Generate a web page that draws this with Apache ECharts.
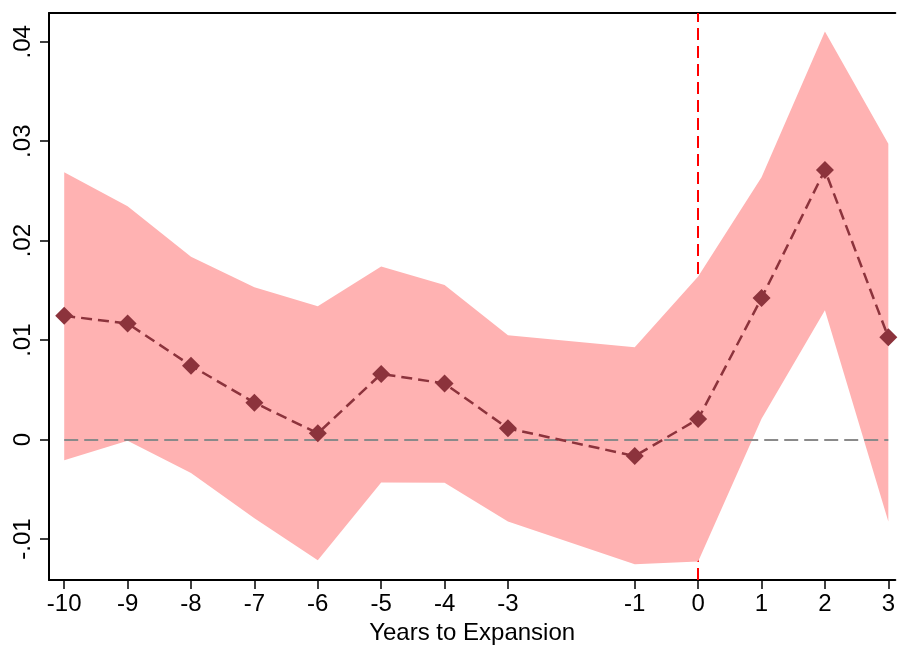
<!DOCTYPE html>
<html>
<head>
<meta charset="utf-8">
<script src="https://cdn.jsdelivr.net/npm/echarts@6/dist/echarts.min.js"></script>
<style>
html,body{margin:0;padding:0;background:#fff;}
#chart{width:898px;height:650px;}
</style>
</head>
<body>
<div id="chart"></div>
<script>
// Data
var years = [-10, -9, -8, -7, -6, -5, -4, -3, -1, 0, 1, 2, 3];
var estimate = [0.01244, 0.01167, 0.00743, 0.00371, 0.00063, 0.0066, 0.00564, 0.00113, -0.00166, 0.00206, 0.01423, 0.0271, 0.01028];
var upper = [0.02687, 0.02345, 0.01838, 0.01532, 0.0134, 0.01741, 0.01555, 0.01048, 0.00929, 0.01639, 0.02637, 0.04103, 0.02975];
var lower = [-0.00209, -0.00013, -0.00335, -0.0079, -0.01214, -0.00431, -0.00435, -0.00823, -0.01254, -0.01227, 0.00209, 0.013, -0.00823];
var xTicks = [-10, -9, -8, -7, -6, -5, -4, -3, -1, 0, 1, 2, 3];
var yTicks = [-0.01, 0, 0.01, 0.02, 0.03, 0.04];
var xAxisTitle = 'Years to Expansion';
var eventYear = 0;

var FONT = '"Liberation Sans", Arial, Helvetica, sans-serif';
var bandData = years.map(function (x, i) { return [x, lower[i], upper[i]]; });
var estPts = years.map(function (x, i) { return [x, estimate[i]]; });

function fmtY(v) {
  if (Math.abs(v) < 1e-12) return '0';
  var s = String(Math.round(Math.abs(v) * 1000) / 1000).replace(/^0/, '');
  return (v < 0 ? '-' : '') + s;
}

function renderBand(params, api) {
  if (params.dataIndex !== 0) return null;
  var pts = [];
  var n = bandData.length;
  for (var i = 0; i < n; i++) pts.push(api.coord([bandData[i][0], bandData[i][2]]));
  for (var j = n - 1; j >= 0; j--) pts.push(api.coord([bandData[j][0], bandData[j][1]]));
  return {
    type: 'polygon',
    shape: {points: pts},
    style: {fill: '#ffb2b2', stroke: null},
    silent: true
  };
}

var chart = echarts.init(document.getElementById('chart'), null, {renderer: 'canvas'});
chart.setOption({
  animation: false,
  backgroundColor: '#ffffff',
  grid: {left: 49, top: 13, right: 0, bottom: 64, containLabel: false},
  xAxis: [{
    type: 'value',
    min: -10.24, max: 3.11,
    name: xAxisTitle,
    nameLocation: 'middle',
    nameGap: 38,
    nameTextStyle: {fontFamily: FONT, fontSize: 24, color: '#000'},
    axisLine: {show: true, onZero: false, lineStyle: {color: '#000', width: 2}},
    axisTick: {show: true, length: 9, customValues: xTicks, lineStyle: {color: '#000', width: 1.5}},
    axisLabel: {show: true, customValues: xTicks, margin: 12, fontFamily: FONT, fontSize: 24, color: '#000',
      formatter: function (v) { return String(v); }},
    splitLine: {show: false}
  }, {
    type: 'value',
    position: 'top',
    min: -10.24, max: 3.11,
    axisLine: {show: true, onZero: false, lineStyle: {color: '#000', width: 2}},
    axisTick: {show: false},
    axisLabel: {show: false},
    splitLine: {show: false}
  }],
  yAxis: {
    type: 'value',
    min: -0.01413, max: 0.04289,
    axisLine: {show: true, onZero: false, lineStyle: {color: '#000', width: 2}},
    axisTick: {show: true, length: 9, customValues: yTicks, lineStyle: {color: '#000', width: 1.5}},
    axisLabel: {show: true, customValues: yTicks, rotate: 90, margin: 14, fontFamily: FONT, fontSize: 24, color: '#000',
      formatter: fmtY},
    splitLine: {show: false}
  },
  series: [{
    name: 'event',
    type: 'line',
    z: 1,
    data: [],
    markLine: {
      z: 1,
      silent: true,
      symbol: 'none',
      label: {show: false},
      lineStyle: {color: '#ff0000', width: 2, type: [12, 6]},
      data: [{xAxis: eventYear}]
    }
  }, {
    name: 'band',
    type: 'custom',
    z: 2,
    data: bandData,
    encode: {x: 0, y: [1, 2]},
    renderItem: renderBand,
    silent: true
  }, {
    name: 'zero',
    type: 'line',
    z: 3,
    data: [],
    markLine: {
      z: 3,
      silent: true,
      symbol: 'none',
      label: {show: false},
      lineStyle: {color: '#8a8a8a', width: 2, type: [14, 6]},
      data: [[{coord: [years[0], 0]}, {coord: [years[years.length - 1], 0]}]]
    }
  }, {
    name: 'estimate',
    type: 'line',
    z: 4,
    data: estPts,
    symbol: 'diamond',
    symbolSize: 18,
    showAllSymbol: true,
    itemStyle: {color: '#8c333c'},
    lineStyle: {color: '#8c333c', width: 2.5, type: [11, 6]}
  }]
});
</script>
</body>
</html>
